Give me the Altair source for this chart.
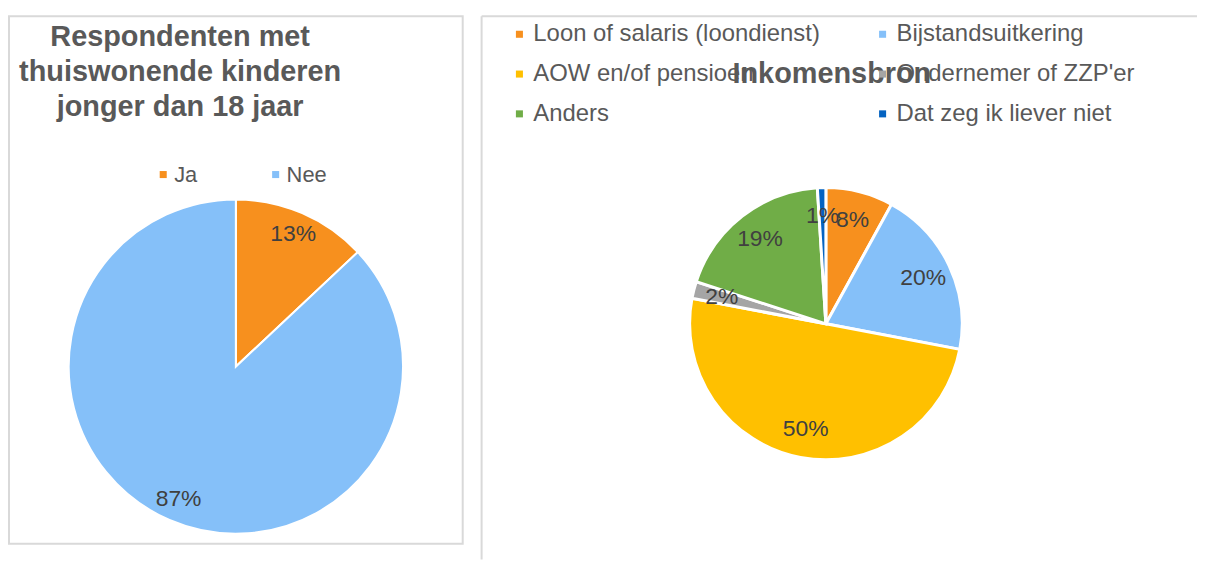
import altair as alt
import pandas as pd

# ---- data ----
left_cats = ["Ja", "Nee"]
left_vals = [13, 87]
left_colors = ["#F7901E", "#85C0F9"]
left_title = ["Respondenten met", "thuiswonende kinderen", "jonger dan 18 jaar"]

right_cats = ["Loon of salaris (loondienst)", "Bijstandsuitkering", "AOW en/of pensioen",
              "Ondernemer of ZZP'er", "Anders", "Dat zeg ik liever niet"]
right_vals = [8, 20, 50, 2, 19, 1]
right_colors = ["#F7901E", "#85C0F9", "#FFC000", "#A5A5A5", "#70AD47", "#0563C1"]
right_title = "Inkomensbron"

FONT = "Liberation Sans"
GREY_TXT = "#595959"
LABEL_TXT = "#404040"
BORDER = "#D9D9D9"

left_df = pd.DataFrame({"cat": left_cats, "val": left_vals,
                        "ord": list(range(len(left_cats))),
                        "label": [f"{v}%" for v in left_vals]})
right_df = pd.DataFrame({"cat": right_cats, "val": right_vals,
                         "ord": list(range(len(right_cats))),
                         "label": [f"{v}%" for v in right_vals]})
dummy = pd.DataFrame({"d": [0]})

# legend is laid out column by column: reorder so it reads row by row
right_legend_order = right_cats[0::2] + right_cats[1::2]
right_legend_colors = [right_colors[right_cats.index(c)] for c in right_legend_order]

# ---- left panel ----
LW, LH = 456, 530
lcx, lcy = 228, 352
lbase = alt.Chart(left_df)
l_pie = lbase.mark_arc(radius=168, stroke="white", strokeWidth=2).encode(
    theta=alt.Theta("val:Q", stack=True),
    order=alt.Order("ord:Q"),
    color=alt.Color("cat:N", sort=left_cats,
                    scale=alt.Scale(domain=left_cats, range=left_colors),
                    legend=alt.Legend(title=None, orient="none", legendX=144, legendY=148,
                                      direction="horizontal", symbolType="square",
                                      symbolSize=50, symbolStrokeWidth=0,
                                      labelFontSize=22, labelFont=FONT, labelColor=GREY_TXT,
                                      labelOffset=0, columnPadding=67)),
    x=alt.value(lcx), y=alt.value(lcy),
)
l_lab = lbase.mark_text(radius=145, fontSize=23, font=FONT, color=LABEL_TXT).encode(
    theta=alt.Theta("val:Q", stack=True),
    order=alt.Order("ord:Q"),
    text="label:N",
    x=alt.value(lcx), y=alt.value(lcy),
)
l_title = alt.Chart(dummy).mark_text(fontSize=29, font=FONT, fontWeight="bold",
                                     color=GREY_TXT, lineHeight=35, baseline="middle",
                                     align="center").encode(
    x=alt.value(172), y=alt.value(21), text=alt.value(left_title))
left = alt.layer(l_pie, l_lab, l_title).properties(
    width=LW, height=LH,
    view=alt.ViewBackground(stroke=BORDER, strokeWidth=2))

# ---- right panel ----
RW, RH = 719, 546
rcx, rcy = 346, 309
rbase = alt.Chart(right_df)
r_title = alt.Chart(dummy).mark_text(fontSize=29, font=FONT, fontWeight="bold",
                                     color=GREY_TXT, baseline="middle",
                                     align="center").encode(
    x=alt.value(352), y=alt.value(58), text=alt.value(right_title))
r_pie = rbase.mark_arc(radius=137, stroke="white", strokeWidth=3).encode(
    theta=alt.Theta("val:Q", stack=True),
    order=alt.Order("ord:Q"),
    color=alt.Color("cat:N", sort=right_legend_order,
                    scale=alt.Scale(domain=right_legend_order, range=right_legend_colors),
                    legend=alt.Legend(title=None, orient="none", legendX=26, legendY=6,
                                      columns=2, symbolType="square",
                                      symbolSize=50, symbolStrokeWidth=0,
                                      labelFontSize=24, labelFont=FONT, labelColor=GREY_TXT,
                                      labelOffset=2, columnPadding=50, rowPadding=16,
                                      labelLimit=400, zindex=1)),
    x=alt.value(rcx), y=alt.value(rcy),
)
r_lab = rbase.mark_text(radius=108, fontSize=23, font=FONT, color=LABEL_TXT).encode(
    theta=alt.Theta("val:Q", stack=True),
    order=alt.Order("ord:Q"),
    text="label:N",
    x=alt.value(rcx), y=alt.value(rcy),
)
r_top = alt.Chart(dummy).mark_rule(color=BORDER, strokeWidth=2).encode(
    x=alt.value(0), x2=alt.value(RW), y=alt.value(0))
r_left = alt.Chart(dummy).mark_rule(color=BORDER, strokeWidth=2).encode(
    x=alt.value(0), y=alt.value(0), y2=alt.value(RH))
right = alt.layer(r_top, r_left, r_title, r_pie, r_lab).properties(
    width=RW, height=RH,
    view=alt.ViewBackground(stroke="transparent"))

chart = alt.hconcat(left, right, spacing=16).resolve_scale(color="independent").properties(
    padding={"left": 0, "top": 5, "right": 0, "bottom": 0}
).configure_view(stroke="transparent")

chart.save("out.html", embed_options={"renderer": "svg", "actions": False})
